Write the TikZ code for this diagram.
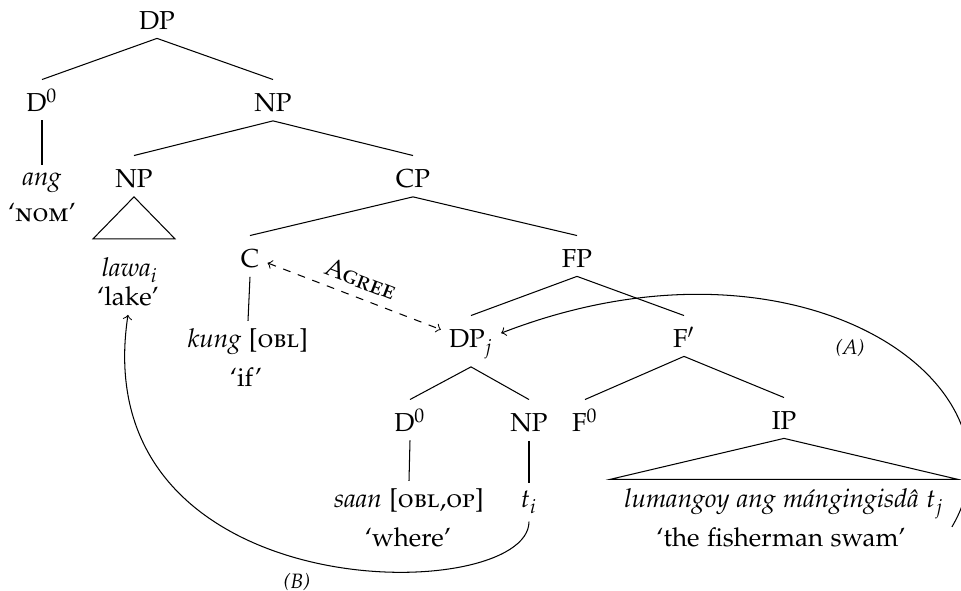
\documentclass[tikz,border=0pt]{standalone}
\usepackage[T1]{fontenc}
\usepackage[sc]{mathpazo}
\usepackage{amsmath}

\begin{document}
\begin{tikzpicture}[x=0.385pt,y=-0.385pt,
  cat/.style={inner sep=3pt,text height=9.3pt,anchor=base},
  word/.style={inner sep=3pt,anchor=base},
  moveLabel/.style={font=\footnotesize\itshape}]
\useasboundingbox (0,0) rectangle (961,591);
%the nodes
\node[cat] (dpTop) at (157,30) {DP};
\node[cat] (dZero) at (42,112) {D$^0$};
\node[cat] (npTop) at (273,112) {NP};
\node[word] (ang) at (42,186) {\textit{ang}};
\node[word] (nomGloss) at (42,222) {`\textsc{nom}'};
\node[cat] (npLake) at (134,188) {NP};
\node[cat] (cp) at (413,188) {CP};
\node[word] (lawa) at (130,277) {\textit{lawa}$_i$};
\node[word] (lakeGloss) at (128,306) {`lake'};
\node[cat] (c) at (250,268) {C};
\node[cat] (fp) at (577,268) {FP};
\node[word] (kung) at (248,348) {\textit{kung} [\textsc{obl}]};
\node[word] (ifGloss) at (246,387) {`if'};
\node[cat] (dpj) at (471,348) {DP$_j$};
\node[cat] (fBar) at (684,348) {F$'$};
\node[cat] (dLow) at (410,432) {D$^0$};
\node[cat] (npLow) at (529,432) {NP};
\node[cat] (fZero) at (585,432) {F$^0$};
\node[cat] (ip) at (784,430) {IP};
\node[word] (saan) at (409,508) {\textit{saan} [\textsc{obl,op}]};
\node[word] (whereGloss) at (408,547) {`where'};
\node[word] (ti) at (529,508) {$t_i$};
\node[word] (lumangoy) at (784,508) {\textit{lumangoy ang m\'angingisd\^a} $t_j$};
\node[word] (swamGloss) at (781,547) {`the fisherman swam'};

%drawings of lines
\draw (dpTop.south) -- (dZero.north);
\draw (dpTop.south) -- (npTop.north);
\draw (dZero.south) -- (ang.north);
\draw (npTop.south) -- (npLake.north);
\draw (npTop.south) -- (cp.north);
\draw (npLake.south) -- ++(-41,42) -- ++(82,0) -- cycle;
\draw (cp.south) -- (c.north);
\draw (cp.south) -- (fp.north);
\draw (c.south) -- (kung.north);
\draw (fp.south) -- (dpj.north);
\draw (fp.south) -- (fBar.north);
\draw (dpj.south) -- (dLow.north);
\draw (dpj.south) -- (npLow.north);
\draw (fBar.south) -- (fZero.north);
\draw (fBar.south) -- (ip.north);
\draw (dLow.south) -- (saan.north);
\draw (npLow.south) -- (ti.north);
\draw (ip.south) -- ++(-174,41) -- ++(348,0) -- cycle;

%agree and movement
\draw[dashed,<->] (c) -- node[sloped,above] {\textsc{Agree}} (dpj);
\draw[->] (lumangoy.south east) .. controls +(85,-144) and +(297,-115) .. (dpj.15);
\draw[->] (ti.south) .. controls +(0,85) and +(-45,298) .. (lakeGloss.south);
\node[moveLabel] (aLabel) at (850,348) {(A)};
\node[moveLabel] (bLabel) at (297,582) {(B)};
\end{tikzpicture}
\end{document}
